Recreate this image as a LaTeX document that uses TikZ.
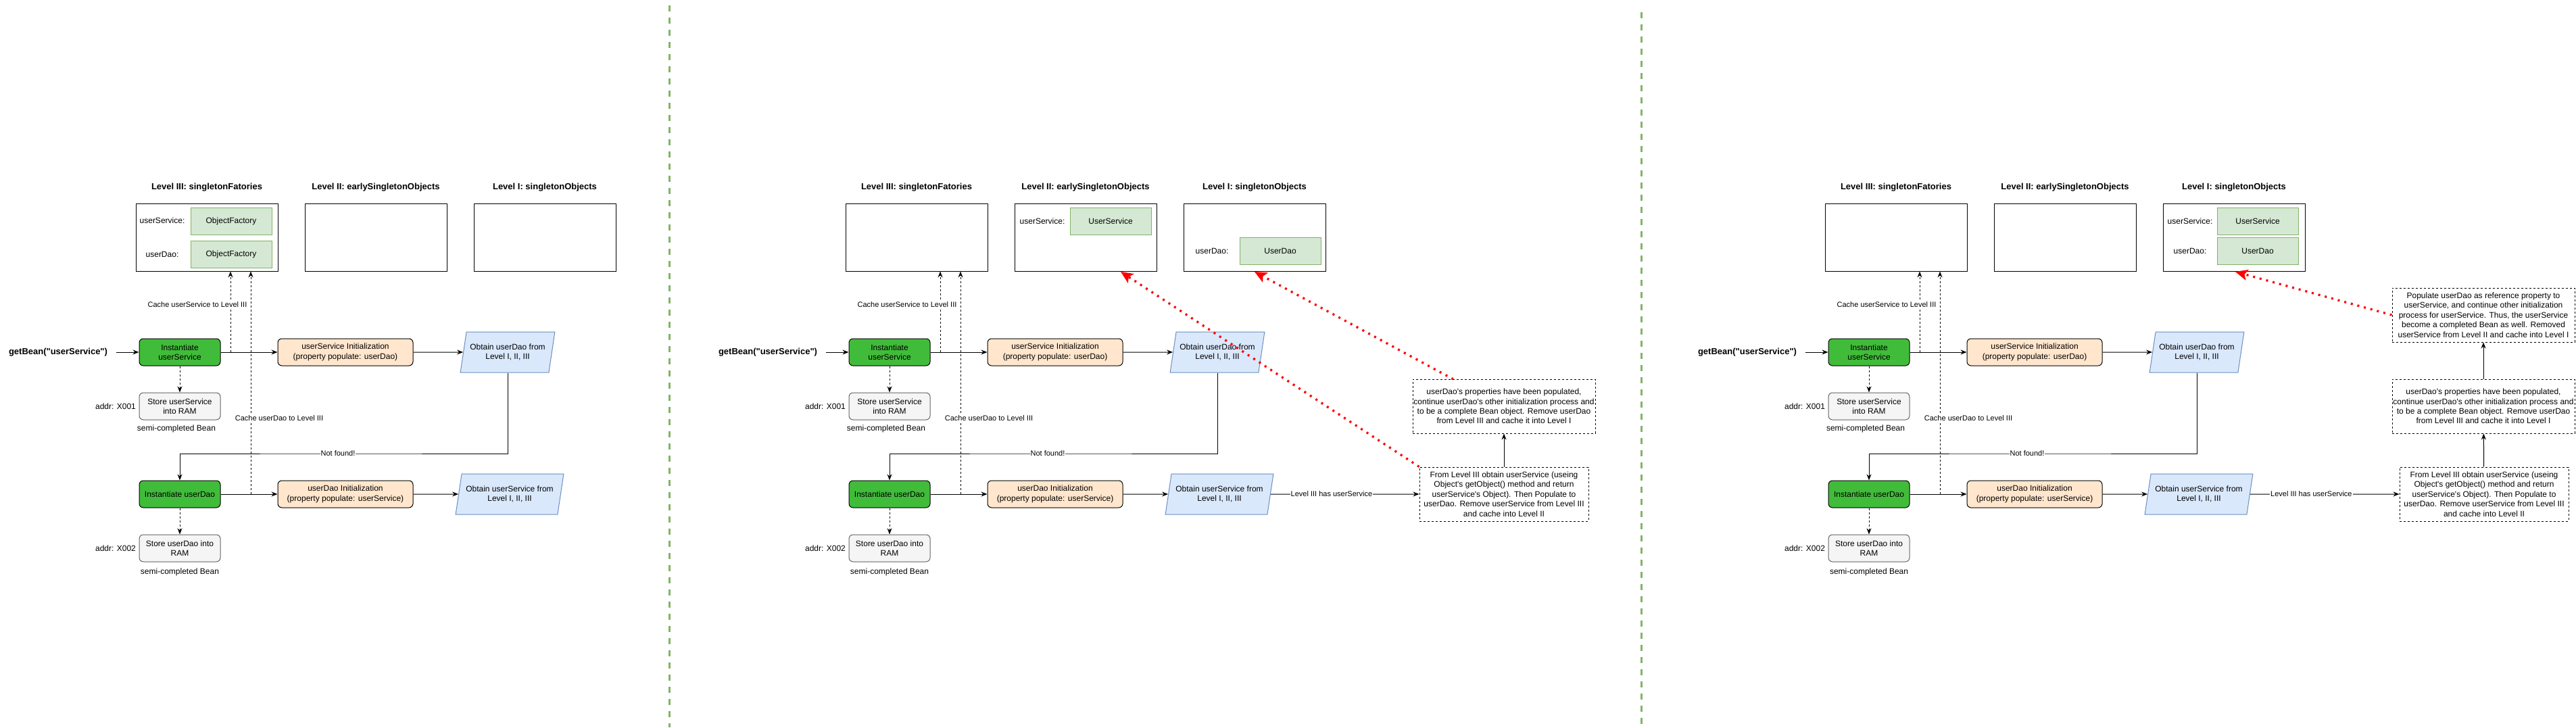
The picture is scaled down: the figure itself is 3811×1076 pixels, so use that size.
\documentclass[tikz,border=0pt]{standalone}
\usepackage{fontspec}
\setmainfont{Liberation Sans}[Ligatures=TeXOff]
\usepackage{tikz}
\usetikzlibrary{arrows.meta,positioning,shapes.geometric}
\definecolor{instgreen}{HTML}{41BC3A}
\definecolor{initfill}{HTML}{FFE6CC}
\definecolor{obtainfill}{HTML}{DAE8FC}
\definecolor{obtaindraw}{HTML}{6C8EBF}
\definecolor{storefill}{HTML}{F5F5F5}
\definecolor{storedraw}{HTML}{666666}
\definecolor{entryfill}{HTML}{D5E8D4}
\definecolor{entrydraw}{HTML}{82B366}
\tikzset{
plaintext/.style={font=\fontsize{12}{14.4}\selectfont,align=center,inner sep=0pt},
leveltitle/.style={font=\fontsize{13}{15}\selectfont\bfseries,inner sep=0pt},
edgelabel/.style={font=\fontsize{11}{13}\selectfont,fill=white,inner sep=1pt},
levelbox/.style={draw,minimum width=210pt,minimum height=100pt,inner sep=0pt},
entrybox/.style={plaintext,draw=entrydraw,fill=entryfill,minimum width=120pt,minimum height=40pt},
instbox/.style={plaintext,draw,fill=instgreen,rounded corners=6pt,minimum width=120pt,minimum height=40pt},
initbox/.style={plaintext,draw,fill=initfill,rounded corners=6pt,minimum width=200pt,minimum height=40pt},
storebox/.style={plaintext,draw=storedraw,fill=storefill,rounded corners=6pt,minimum width=120pt,minimum height=40pt},
obtainbox/.style={plaintext,draw=obtaindraw,fill=obtainfill,trapezium,trapezium left angle=71.6,trapezium right angle=108.4,trapezium stretches=true,minimum width=140pt,minimum height=60pt},
notebox/.style={plaintext,draw,dashed,minimum height=80pt},
reddot/.style={draw=red,line width=3.3pt,dash pattern=on 3pt off 7pt,-{Stealth[length=18pt,width=16pt,inset=4pt]}},
sepline/.style={draw=entrydraw,line width=3pt,dash pattern=on 9pt off 9pt}
}
\newcommand{\beanflow}{%
\node[leveltitle] (T3) at (306,277) {Level III: singletonFatories};
\node[leveltitle] (T2) at (556,277) {Level II: earlySingletonObjects};
\node[leveltitle] (T1) at (806,277) {Level I: singletonObjects};
\node[levelbox] (L3) at (306,351) {};
\node[levelbox] (L2) at (556,351) {};
\node[levelbox] (L1) at (806,351) {};
\node[leveltitle] (G) at (86,521) {getBean("userService")};
\node[instbox] (IS) at (266,521) {Instantiate\\userService};
\node[initbox] (SI) at (511,521) {userService Initialization\\(property populate: userDao)};
\node[obtainbox] (OD) at (751,521) {Obtain userDao from\\Level I, II, III};
\node[storebox] (SS) at (266,601) {Store userService\\into RAM};
\node[plaintext] (A1) at (171,601) {addr: X001};
\node[plaintext] (B1) at (261,634) {semi-completed Bean};
\node[instbox] (ID) at (266,731) {Instantiate userDao};
\node[initbox] (DI) at (511,731) {userDao Initialization\\(property populate: userService)};
\node[obtainbox,minimum width=160pt] (OS) at (754,731) {Obtain userService from\\Level I, II, III};
\node[storebox] (SD) at (266,811) {Store userDao into\\RAM};
\node[plaintext] (A2) at (171,811) {addr: X002};
\node[plaintext] (B2) at (266,846) {semi-completed Bean};
\coordinate (C1) at (341,521);
\coordinate (C2) at (371,731);
\coordinate (NF) at (500,671);
\path[->]
(G) edge[shorten <=12pt] (IS)
(IS) edge (SI)
(SI) edge (OD)
(ID) edge (DI)
(DI) edge (OS)
(IS) edge[dashed] (SS)
(ID) edge[dashed] (SD)
(C1) edge[dashed] (C1 |- L3.south)
(C2) edge[dashed] (C2 |- L3.south);
\draw[->] (OD.south) |- (NF) -| (ID.north);
\node[edgelabel] (NL) at (NF) {Not found!};
\node[edgelabel] (CS) at (292,451) {Cache userService to Level III};
\node[edgelabel] (CD) at (413,619) {Cache userDao to Level III};
}

\begin{document}
\begin{tikzpicture}[x=1pt,y=-1pt,line width=1pt,>={Stealth[length=9pt,width=7pt,inset=3pt]}]
\path[use as bounding box,fill=white] (0,0) rectangle (3811,1076);
\draw[sepline] (990,8) -- (990,1076);
\draw[sepline] (2428,18) -- (2428,1076);

\begin{scope}[name prefix=L-]
\beanflow
\node[plaintext] (US) at (240,326) {userService:};
\node[entrybox] (OF1) at (342,327) {ObjectFactory};
\node[plaintext] (UD) at (240,376) {userDao:};
\node[entrybox] (OF2) at (342,376) {ObjectFactory};
\end{scope}

\begin{scope}[xshift=1050pt,name prefix=M-]
\beanflow
\node[plaintext] (US) at (492,327) {userService:};
\node[entrybox] (ES) at (593,327) {UserService};
\node[plaintext] (UD) at (743,371) {userDao:};
\node[entrybox] (ED) at (844,371) {UserDao};
\node[notebox,minimum width=250pt] (F) at (1175,731) {From Level III obtain userService (useing\\Object's getObject() method and return\\userService's Object). Then Populate to\\userDao. Remove userService from Level III\\and cache into Level II};
\node[notebox,minimum width=270pt] (P) at (1175,601) {userDao's properties have been populated,\\continue userDao's other initialization process and\\to be a complete Bean object. Remove userDao\\from Level III and cache it into Level I};
\coordinate (R2) at (608,402);
\coordinate (R1) at (806,402);
\coordinate (P1) at (1100,561);
\path[->]
(OS) edge node[edgelabel,pos=0.41]{Level III has userService} (F)
(F) edge (P);
\draw[reddot] (F.north west) -- (R2);
\draw[reddot] (P1) -- (R1);
\end{scope}

\begin{scope}[xshift=2499pt,name prefix=R-]
\beanflow
\node[plaintext] (US) at (741,327) {userService:};
\node[entrybox] (ES) at (841,327) {UserService};
\node[plaintext] (UD) at (741,371) {userDao:};
\node[entrybox] (ED) at (841,371) {UserDao};
\node[notebox,minimum width=250pt] (F) at (1176,731) {From Level III obtain userService (useing\\Object's getObject() method and return\\userService's Object). Then Populate to\\userDao. Remove userService from Level III\\and cache into Level II};
\node[notebox,minimum width=270pt] (P) at (1175,601) {userDao's properties have been populated,\\continue userDao's other initialization process and\\to be a complete Bean object. Remove userDao\\from Level III and cache it into Level I};
\node[notebox,minimum width=270pt] (U) at (1175,466) {Populate userDao as reference property to\\userService, and continue other initialization\\process for userService. Thus, the userService\\become a completed Bean as well. Removed\\userService from Level II and cache into Level I};
\coordinate (R1) at (808,402);
\path[->]
(OS) edge node[edgelabel,pos=0.41]{Level III has userService} (F)
(F) edge (P)
(P) edge (U);
\draw[reddot] (U.west) -- (R1);
\end{scope}
\end{tikzpicture}
\end{document}
